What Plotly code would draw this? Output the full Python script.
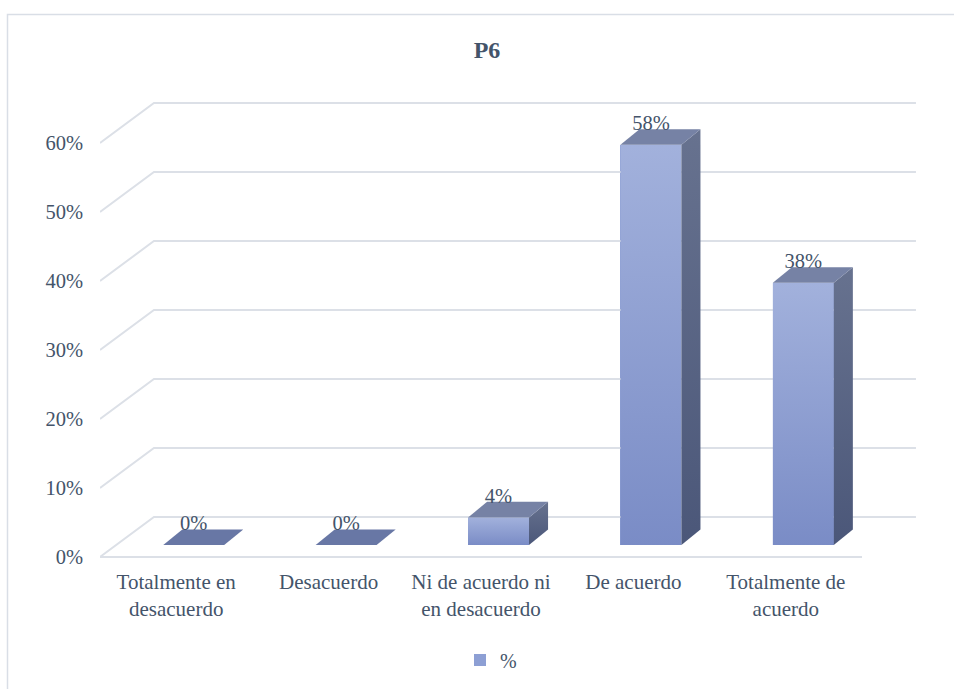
import plotly.graph_objects as go

# ---- data ----
categories = ["Totalmente en<br>desacuerdo", "Desacuerdo", "Ni de acuerdo ni<br>en desacuerdo",
              "De acuerdo", "Totalmente de<br>acuerdo"]
values = [0, 0, 4, 58, 38]
value_labels = ["0%", "0%", "4%", "58%", "38%"]
y_ticks = [0, 10, 20, 30, 40, 50, 60]
y_ticklabels = ["0%", "10%", "20%", "30%", "40%", "50%", "60%"]
series_name = "%"
title_text = "P6"

# ---- pseudo-3D geometry (in axis units) ----
FLOOR_DX, FLOOR_DY = 0.354, 5.8      # depth offset of back wall
BAR_SHIFT, BAR_BASE = 0.115, 1.74    # bar placed mid-depth
BAR_W = 0.40
BAR_DX, BAR_DY = 0.125, 2.25         # bar depth
LABEL_DROP = 0.85

FONT = "Liberation Serif"
TXT = "#44546A"
GRID = "#DCE0E7"

fig = go.Figure()

# back wall gridlines + floor
n = len(categories)
x_left, x_right = -0.5, n - 0.5
for v in y_ticks:
    fig.add_trace(go.Scatter(
        x=[x_left, x_left + FLOOR_DX, x_right + FLOOR_DX],
        y=[v, v + FLOOR_DY, v + FLOOR_DY],
        mode="lines", line=dict(color=GRID, width=2),
        hoverinfo="skip", showlegend=False))
fig.add_trace(go.Scatter(x=[x_left, x_right], y=[0, 0], mode="lines",
                         line=dict(color=GRID, width=2), hoverinfo="skip", showlegend=False))

# front faces (bars)
xc = [i + BAR_SHIFT for i in range(n)]
fig.add_trace(go.Bar(x=xc, y=values, base=BAR_BASE, width=BAR_W, name=series_name,
                     marker=dict(color="#8D9FD4", line=dict(width=0)),
                     showlegend=True))

for i, v in enumerate(values):
    l = xc[i] - BAR_W / 2
    r = xc[i] + BAR_W / 2
    b = BAR_BASE
    t = BAR_BASE + v
    if v > 0:
        # gradient front face
        fig.add_trace(go.Scatter(
            x=[l, r, r, l, l], y=[b, b, t, t, b], mode="lines", fill="toself",
            line=dict(width=0, color="rgba(0,0,0,0)"),
            fillgradient=dict(type="vertical", colorscale=[[0, "#7A8CC6"], [1, "#A2B1DC"]]),
            hoverinfo="skip", showlegend=False))
        # side face
        fig.add_trace(go.Scatter(
            x=[r, r + BAR_DX, r + BAR_DX, r, r], y=[b, b + BAR_DY, t + BAR_DY, t, b],
            mode="lines", fill="toself", line=dict(width=0, color="rgba(0,0,0,0)"),
            fillgradient=dict(type="vertical", colorscale=[[0, "#4B5779"], [1, "#67728F"]]),
            hoverinfo="skip", showlegend=False))
    # top face
    fig.add_trace(go.Scatter(
        x=[l, r, r + BAR_DX, l + BAR_DX, l], y=[t, t, t + BAR_DY, t + BAR_DY, t],
        mode="lines", fill="toself", fillcolor="#7682A5" if v > 0 else "#6877A5",
        line=dict(width=0, color="rgba(0,0,0,0)"), hoverinfo="skip", showlegend=False))

# data labels
fig.add_trace(go.Scatter(
    x=xc, y=[BAR_BASE + v + BAR_DY - LABEL_DROP for v in values], mode="text", text=value_labels,
    textposition="top center", textfont=dict(family=FONT, size=20.5, color=TXT),
    hoverinfo="skip", showlegend=False))

W, H = 954, 689
ml, mr, mt, mb = 100, 34, 90, 129
pw = W - ml - mr
ph = H - mt - mb
px_per_cat = 152.4
px_per_pct = 6.9
x_range = [-0.5, -0.5 + pw / px_per_cat]
y_range = [-(3) / px_per_pct, (557 - mt) / px_per_pct]

fig.update_layout(
    width=W, height=H,
    margin=dict(l=ml, r=mr, t=mt, b=mb, autoexpand=False),
    paper_bgcolor="white", plot_bgcolor="white",
    title=dict(text="<b>" + title_text + "</b>", x=487 / W, xanchor="center",
               y=1 - 50 / H, yanchor="middle", yref="container",
               font=dict(family=FONT, size=24, color=TXT)),
    xaxis=dict(range=x_range, tickvals=list(range(n)), ticktext=categories,
               showgrid=False, zeroline=False, showline=False, ticks="",
               tickfont=dict(family=FONT, size=21, color=TXT), ticklabelstandoff=7,
               automargin=False, fixedrange=True),
    yaxis=dict(range=y_range, tickvals=y_ticks, ticktext=y_ticklabels,
               showgrid=False, zeroline=False, showline=False, ticks="",
               tickfont=dict(family=FONT, size=20.5, color=TXT), ticklabelstandoff=16,
               automargin=False, fixedrange=True),
    legend=dict(orientation="h", x=(460 - ml) / pw, xanchor="left",
                y=(H - mb - 660) / ph, yanchor="middle", itemwidth=30,
                font=dict(family=FONT, size=20, color=TXT)),
    bargap=0, showlegend=True,
)

# outer chart border
fig.add_shape(type="rect", xref="paper", yref="paper",
              x0=(7.5 - ml) / pw, x1=(975 - ml) / pw,
              y0=(H - mb - 710) / ph, y1=(H - mb - 14.5) / ph,
              line=dict(color="#D9DEE6", width=1.5), fillcolor="rgba(0,0,0,0)", layer="below")

fig.write_html("out.html", config={"displayModeBar": False},
               post_script="document.body.style.margin='0';")
